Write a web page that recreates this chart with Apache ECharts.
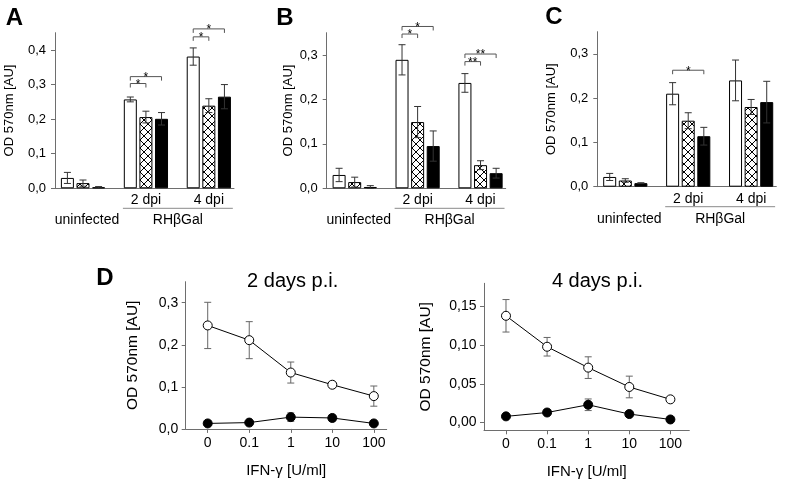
<!DOCTYPE html>
<html lang="en">
<head>
<meta charset="UTF-8">
<title>OD 570nm - RHbetaGal panels</title>
<script src="https://cdn.jsdelivr.net/npm/echarts@6.0.0/dist/echarts.min.js"></script>
<style>
  html, body { margin: 0; padding: 0; background: #ffffff; }
  #chart { width: 785px; height: 482px; }
</style>
</head>
<body>
<div id="chart"></div>
<script>
// ---- data ----
const groupLabels = ['uninfected', '2 dpi', '4 dpi'];
const lowerLabels = ['uninfected', 'RHβGal'];
const lowerSpans = [[0, 0], [1, 2]];

// panel A
const aOpen = [0.030, 0.257, 0.381];
const aOpenErr = [0.016, 0.007, 0.025];
const aHatched = [0.015, 0.206, 0.239];
const aHatchedErr = [0.009, 0.017, 0.020];
const aFilled = [0.003, 0.201, 0.265];
const aFilledErr = [0.002, 0.018, 0.035];
// bracket: [group, fromBar, toBar, level]
const aBrackets = [[1, 0, 1, 0.303], [1, 0, 2, 0.323], [2, 0, 1, 0.438], [2, 0, 2, 0.461]];
const aMarks = ['*', '*', '*', '*'];

// panel B
const bOpen = [0.030, 0.289, 0.237];
const bOpenErr = [0.015, 0.034, 0.021];
const bHatched = [0.014, 0.149, 0.052];
const bHatchedErr = [0.011, 0.035, 0.010];
const bFilled = [0.003, 0.095, 0.034];
const bFilledErr = [0.003, 0.034, 0.011];
const bBrackets = [[1, 0, 1, 0.347], [1, 0, 2, 0.364], [2, 0, 1, 0.285], [2, 0, 2, 0.302]];
const bMarks = ['*', '*', '**', '**'];

// panel C
const cOpen = [0.022, 0.210, 0.240];
const cOpenErr = [0.008, 0.025, 0.046];
const cHatched = [0.014, 0.149, 0.180];
const cHatchedErr = [0.004, 0.018, 0.017];
const cFilled = [0.008, 0.114, 0.191];
const cFilledErr = [0.001, 0.020, 0.047];
const cBrackets = [[1, 0, 2, 0.263]];
const cMarks = ['*'];

// panel D
const doseLabels = ['0', '0.1', '1', '10', '100'];
const d2Open = [0.246, 0.211, 0.134, 0.105, 0.078];
const d2OpenErr = [0.055, 0.044, 0.025, 0.007, 0.024];
const d2Filled = [0.013, 0.015, 0.028, 0.026, 0.013];
const d2FilledErr = [0.003, 0.003, 0.010, 0.007, 0.003];
const d4Open = [0.138, 0.098, 0.071, 0.046, 0.030];
const d4OpenErr = [0.021, 0.012, 0.014, 0.014, 0.002];
const d4Filled = [0.008, 0.013, 0.023, 0.011, 0.004];
const d4FilledErr = [0.002, 0.003, 0.0075, 0.003, 0.002];

const barTicks = [0, 0.1, 0.2, 0.3, 0.4];
const barTicksShort = [0, 0.1, 0.2, 0.3];
const d2Ticks = [0, 0.1, 0.2, 0.3];
const d4Ticks = [0, 0.05, 0.10, 0.15];
const doseTicks = [0, 1, 2, 3, 4];

// ---- styling ----
const FONT = '"Liberation Sans", Arial, Helvetica, sans-serif';
const AXIS = '#6e6e6e';
const BAR_W = 13;
const BAR_STEP = 15.6;

// cross-hatch fill for the middle bars
const hatch = (function () {
    const n = 8;
    const c = document.createElement('canvas');
    c.width = n; c.height = n;
    const ctx = c.getContext('2d');
    ctx.fillStyle = '#fff';
    ctx.fillRect(0, 0, n, n);
    ctx.strokeStyle = '#000';
    ctx.lineWidth = 1;
    ctx.beginPath();
    ctx.moveTo(0, 0); ctx.lineTo(n, n);
    ctx.moveTo(n, 0); ctx.lineTo(0, n);
    ctx.stroke();
    return c;
})();
const barFills = ['#ffffff', { image: hatch, repeat: 'repeat' }, '#000000'];

function txt(x, y, text, font, align) {
    return {
        type: 'text', x: x, y: y,
        style: {
            text: text, font: font, fill: '#000',
            textAlign: align || 'center', align: align || 'center',
            textVerticalAlign: 'middle', verticalAlign: 'middle'
        }
    };
}

// vertical error bar with caps, shifted by a pixel offset
function errRender(offset, cap, color) {
    return function (params, api) {
        const g = api.value(0), m = api.value(1), e = api.value(2);
        const top = api.coord([g, m + e]);
        const bot = api.coord([g, m - e]);
        const x = top[0] + offset;
        const ls = { stroke: color, lineWidth: 1 };
        return {
            type: 'group', children: [
                { type: 'line', shape: { x1: x, y1: top[1], x2: x, y2: bot[1] }, style: ls },
                { type: 'line', shape: { x1: x - cap, y1: top[1], x2: x + cap, y2: top[1] }, style: ls },
                { type: 'line', shape: { x1: x - cap, y1: bot[1], x2: x + cap, y2: bot[1] }, style: ls }
            ]
        };
    };
}

// significance bracket between two bars of a group
function bracketRender(marks) {
    return function (params, api) {
        const g = api.value(0), from = api.value(1), to = api.value(2), lvl = api.value(3);
        const p = api.coord([g, lvl]);
        const x1 = p[0] + (from - 1) * BAR_STEP;
        const x2 = p[0] + (to - 1) * BAR_STEP;
        const y = p[1];
        return {
            type: 'group', children: [
                {
                    type: 'polyline',
                    shape: { points: [[x1, y + 4], [x1, y], [x2, y], [x2, y + 4]] },
                    style: { stroke: '#555', fill: null, lineWidth: 1 }
                },
                txt((x1 + x2) / 2, y + 1, marks[params.dataIndex], '12px ' + FONT)
            ]
        };
    };
}

// second row of x labels + underline for the infected groups
function lowerRender(params, api) {
    const a = api.coord([api.value(0), api.value(2)]);
    const b = api.coord([api.value(1), api.value(2)]);
    const y0 = a[1];
    const label = lowerLabels[params.dataIndex];
    if (api.value(0) === api.value(1)) {
        return txt(a[0] + 4, y0 + 32, label, '14px ' + FONT);
    }
    const x1 = a[0] - 23, x2 = b[0] + 24;
    return {
        type: 'group', children: [
            { type: 'line', shape: { x1: x1, y1: y0 + 20, x2: x2, y2: y0 + 20 }, style: { stroke: '#8a8a8a', lineWidth: 1 } },
            txt((x1 + x2) / 2, y0 + 32, label, '14px ' + FONT)
        ]
    };
}

const barPanels = [
    { grid: { left: 55, top: 32.7, width: 179, height: 155.6 }, max: 0.45, ticks: barTicks, nameGap: 39,
      values: [aOpen, aHatched, aFilled], errs: [aOpenErr, aHatchedErr, aFilledErr], brackets: aBrackets, marks: aMarks },
    { grid: { left: 326.7, top: 32.7, width: 179, height: 155.6 }, max: 0.35, ticks: barTicksShort, nameGap: 32,
      values: [bOpen, bHatched, bFilled], errs: [bOpenErr, bHatchedErr, bFilledErr], brackets: bBrackets, marks: bMarks },
    { grid: { left: 597.3, top: 31.7, width: 179, height: 155 }, max: 0.35, ticks: barTicksShort, nameGap: 39,
      values: [cOpen, cHatched, cFilled], errs: [cOpenErr, cHatchedErr, cFilledErr], brackets: cBrackets, marks: cMarks }
];

const linePanels = [
    { grid: { left: 185.7, top: 281.7, width: 201, height: 147.2 }, min: 0, max: 0.35, ticks: d2Ticks, digits: 1,
      xmin: -0.53, xmax: 4.31, nameGap: 45, open: d2Open, openErr: d2OpenErr, filled: d2Filled, filledErr: d2FilledErr },
    { grid: { left: 484, top: 283.3, width: 205.3, height: 147 }, min: -0.01, max: 0.18, ticks: d4Ticks, digits: 2,
      xmin: -0.535, xmax: 4.46, nameGap: 50, open: d4Open, openErr: d4OpenErr, filled: d4Filled, filledErr: d4FilledErr }
];

const grids = [], xAxes = [], yAxes = [], series = [];
const axisLine = { show: true, onZero: false, lineStyle: { color: AXIS, width: 1 } };

barPanels.forEach(function (p, i) {
    grids.push(Object.assign({ outerBoundsMode: 'none', containLabel: false }, p.grid));
    xAxes.push({
        gridIndex: i, type: 'value', min: -0.445, max: 2.4,
        axisLine: axisLine, axisTick: { show: false }, splitLine: { show: false },
        axisLabel: {
            customValues: [1, 2], formatter: function (v) { return groupLabels[Math.round(v)]; },
            color: '#000', fontSize: 14, fontFamily: FONT, margin: 5
        }
    });
    yAxes.push({
        gridIndex: i, type: 'value', min: 0, max: p.max,
        name: 'OD 570nm [AU]', nameLocation: 'middle', nameGap: p.nameGap,
        nameTextStyle: { fontSize: 13, fontFamily: FONT, color: '#000' },
        axisLine: axisLine,
        axisTick: { show: true, length: 4, customValues: p.ticks, lineStyle: { color: AXIS } },
        axisLabel: {
            customValues: p.ticks, formatter: function (v) { return v.toFixed(1).replace('.', ','); },
            color: '#000', fontSize: 13, fontFamily: FONT, margin: 9
        },
        splitLine: { show: false }
    });
    p.values.forEach(function (vals, s) {
        series.push({
            type: 'bar', xAxisIndex: i, yAxisIndex: i, barWidth: BAR_W, barGap: '20%',
            data: vals.map(function (v, g) { return [g, v]; }),
            itemStyle: { color: barFills[s], borderColor: '#000', borderWidth: 1 },
            silent: true
        });
    });
    p.values.forEach(function (vals, s) {
        series.push({
            type: 'custom', xAxisIndex: i, yAxisIndex: i, z: 5, clip: false,
            data: vals.map(function (v, g) { return [g, v, p.errs[s][g]]; }),
            encode: { x: 0, y: 1 },
            renderItem: errRender((s - 1) * BAR_STEP, 3.5, '#333')
        });
    });
    series.push({
        type: 'custom', xAxisIndex: i, yAxisIndex: i, z: 6, clip: false,
        data: p.brackets, encode: { x: 0, y: 3 },
        renderItem: bracketRender(p.marks)
    });
    series.push({
        type: 'custom', xAxisIndex: i, yAxisIndex: i, z: 6, clip: false,
        data: lowerSpans.map(function (s) { return [s[0], s[1], 0]; }), encode: { x: [0, 1], y: 2 },
        renderItem: lowerRender
    });
});

linePanels.forEach(function (p, k) {
    const i = barPanels.length + k;
    grids.push(Object.assign({ outerBoundsMode: 'none', containLabel: false }, p.grid));
    xAxes.push({
        gridIndex: i, type: 'value', min: p.xmin, max: p.xmax,
        name: 'IFN-γ [U/ml]', nameLocation: 'middle', nameGap: 34,
        nameTextStyle: { fontSize: 15, fontFamily: FONT, color: '#000' },
        axisLine: axisLine,
        axisTick: { show: true, length: 4, customValues: doseTicks, lineStyle: { color: AXIS } },
        axisLabel: {
            customValues: doseTicks, formatter: function (v) { return doseLabels[Math.round(v)]; },
            color: '#000', fontSize: 14, fontFamily: FONT, margin: 7
        },
        splitLine: { show: false }
    });
    yAxes.push({
        gridIndex: i, type: 'value', min: p.min, max: p.max,
        name: 'OD 570nm [AU]', nameLocation: 'middle', nameGap: p.nameGap,
        nameTextStyle: { fontSize: 15.5, fontFamily: FONT, color: '#000' },
        axisLine: axisLine,
        axisTick: { show: true, length: 4, customValues: p.ticks, lineStyle: { color: AXIS } },
        axisLabel: {
            customValues: p.ticks, formatter: function (v) { return v.toFixed(p.digits).replace('.', ','); },
            color: '#000', fontSize: 14, fontFamily: FONT, margin: 7.5
        },
        splitLine: { show: false }
    });
    [[p.open, p.openErr, '#ffffff'], [p.filled, p.filledErr, '#000000']].forEach(function (d) {
        series.push({
            type: 'custom', xAxisIndex: i, yAxisIndex: i, z: 2, clip: false,
            data: d[0].map(function (v, j) { return [j, v, d[1][j]]; }),
            encode: { x: 0, y: 1 },
            renderItem: errRender(0, 3.5, '#666')
        });
        series.push({
            type: 'line', xAxisIndex: i, yAxisIndex: i, z: 3,
            data: d[0].map(function (v, j) { return [j, v]; }),
            symbol: 'circle', symbolSize: 9, showSymbol: true,
            lineStyle: { color: '#000', width: 1 },
            itemStyle: { color: d[2], borderColor: '#000', borderWidth: 1 },
            silent: true
        });
    });
});

const chart = echarts.init(document.getElementById('chart'));
chart.setOption({
    animation: false,
    backgroundColor: '#ffffff',
    textStyle: { fontFamily: FONT },
    grid: grids,
    xAxis: xAxes,
    yAxis: yAxes,
    series: series,
    graphic: [
        txt(14.5, 18, 'A', 'bold 24px ' + FONT),
        txt(285, 18, 'B', 'bold 24px ' + FONT),
        txt(554, 17, 'C', 'bold 24px ' + FONT),
        txt(105, 278.7, 'D', 'bold 24px ' + FONT),
        txt(292.7, 281.5, '2 days p.i.', '20px ' + FONT),
        txt(597.5, 281.5, '4 days p.i.', '20px ' + FONT)
    ]
});
</script>
</body>
</html>
